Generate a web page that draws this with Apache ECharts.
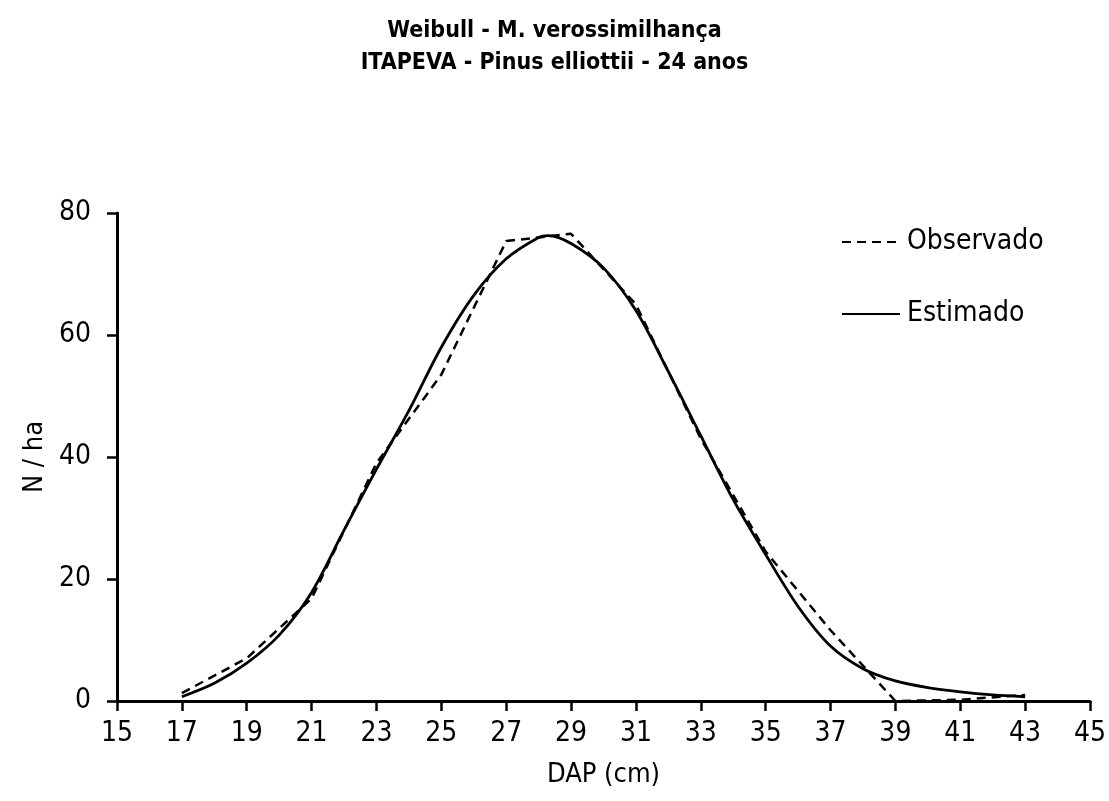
<!DOCTYPE html>
<html>
<head>
<meta charset="utf-8">
<script src="https://cdn.jsdelivr.net/npm/echarts@6/dist/echarts.min.js"></script>
<style>
  html, body { margin: 0; padding: 0; background: #fff; }
  #chart { width: 1109px; height: 801px; }
</style>
</head>
<body>
<div id="chart"></div>
<script>
// classes de DAP (cm) e frequências observadas
var obsX = [17, 19, 21, 23, 25, 27, 29, 31, 33, 35, 37, 39, 41, 43];
var obsY = [1.3, 7, 16.8, 39, 53.5, 75.4, 76.6, 65, 43, 24.5, 11.6, 0, 0.2, 1.0];

// curva Weibull estimada
var estX = [17, 18, 19, 20, 21, 22, 23, 24, 25, 26, 27, 28, 28.3, 29, 30, 31, 32, 33, 34, 35, 36, 37, 38, 39, 40, 41, 42, 43];
var estY = [0.7, 2.9, 6.2, 10.8, 17.8, 28, 38, 47.6, 58, 66.5, 72.5, 76, 76.3, 75, 71, 64, 54, 43.5, 33, 24, 15.5, 9, 5.3, 3.3, 2.2, 1.5, 1, 0.7];

var xTicks = [15, 45, 2];
var yTicks = [0, 80, 20];

var font = "'Liberation Sans Narrow', 'DejaVu Sans Condensed', Arial, sans-serif";

function pairs(xs, ys) {
    return xs.map(function (x, i) { return [x, ys[i]]; });
}

var chart = echarts.init(document.getElementById('chart'));

chart.setOption({
    backgroundColor: '#fff',
    animation: false,
    title: {
        text: 'Weibull - M. verossimilhança\nITAPEVA - Pinus elliottii - 24 anos',
        left: 'center',
        top: 10,
        textStyle: {
            fontFamily: font,
            fontWeight: 'bold',
            fontSize: 23,
            lineHeight: 32,
            color: '#000'
        }
    },
    legend: {
        orient: 'vertical',
        left: 836,
        top: 223,
        itemWidth: 58,
        itemHeight: 14,
        itemGap: 44,
        itemStyle: { opacity: 0 },
        textStyle: { fontFamily: font, fontSize: 28, color: '#000', padding: [0, 0, 0, 2] },
        data: ['Observado', 'Estimado']
    },
    grid: {
        left: 117,
        right: 9,
        top: 213,
        bottom: 100
    },
    xAxis: {
        type: 'value',
        min: xTicks[0],
        max: xTicks[1],
        interval: xTicks[2],
        name: 'DAP (cm)',
        nameLocation: 'middle',
        nameGap: 60,
        nameTextStyle: { fontFamily: font, fontSize: 27, color: '#000' },
        axisLine: { lineStyle: { color: '#000', width: 3 } },
        axisTick: { length: 10, lineStyle: { color: '#000', width: 2.5 } },
        axisLabel: { fontFamily: font, fontSize: 28, color: '#000', margin: 19 },
        splitLine: { show: false }
    },
    yAxis: {
        type: 'value',
        min: yTicks[0],
        max: yTicks[1],
        interval: yTicks[2],
        name: 'N / ha',
        nameLocation: 'middle',
        nameGap: 67,
        nameTextStyle: { fontFamily: font, fontSize: 27, color: '#000' },
        axisLine: { show: true, lineStyle: { color: '#000', width: 3 } },
        axisTick: { show: true, length: 10, lineStyle: { color: '#000', width: 2.5 } },
        axisLabel: { fontFamily: font, fontSize: 28, color: '#000', margin: 26 },
        splitLine: { show: false }
    },
    series: [
        {
            name: 'Observado',
            type: 'line',
            symbol: 'none',
            data: pairs(obsX, obsY),
            lineStyle: { color: '#000', width: 2.5, type: [9, 6] },
            itemStyle: { color: '#000' }
        },
        {
            name: 'Estimado',
            type: 'line',
            symbol: 'none',
            smooth: 0.3,
            data: pairs(estX, estY),
            lineStyle: { color: '#000', width: 2.8 },
            itemStyle: { color: '#000' }
        }
    ]
});
</script>
</body>
</html>
